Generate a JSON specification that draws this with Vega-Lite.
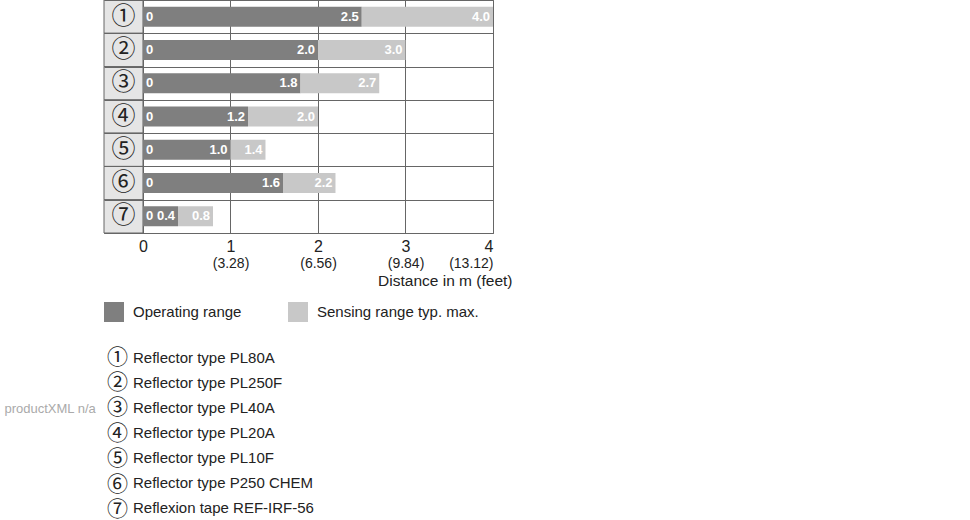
{
  "$schema": "https://vega.github.io/schema/vega-lite/v6.json",
  "autosize": "none",
  "padding": {"left": 104, "top": 0, "right": 477, "bottom": 287},
  "width": 389,
  "height": 233,
  "background": "white",
  "config": {
    "font": "Liberation Sans",
    "view": {"stroke": "#666", "strokeWidth": 1}
  },
  "data": {
    "values": [
      {"row": "①", "op": 2.5, "max": 4.0, "name": "Reflector type PL80A"},
      {"row": "②", "op": 2.0, "max": 3.0, "name": "Reflector type PL250F"},
      {"row": "③", "op": 1.8, "max": 2.7, "name": "Reflector type PL40A"},
      {"row": "④", "op": 1.2, "max": 2.0, "name": "Reflector type PL20A"},
      {"row": "⑤", "op": 1.0, "max": 1.4, "name": "Reflector type PL10F"},
      {"row": "⑥", "op": 1.6, "max": 2.2, "name": "Reflector type P250 CHEM"},
      {"row": "⑦", "op": 0.4, "max": 0.8, "name": "Reflexion tape REF-IRF-56"}
    ]
  },
  "encoding": {
    "y": {
      "field": "row", "type": "nominal", "sort": null,
      "scale": {"paddingInner": 0, "paddingOuter": 0},
      "axis": {
        "labels": false, "ticks": false, "domain": false, "grid": true,
        "tickBand": "extent", "gridColor": "#666", "gridWidth": 1, "zindex": 1,
        "title": "productXML n/a", "titleAngle": 0, "titleX": -100, "titleY": 408,
        "titleAlign": "left", "titleBaseline": "middle", "titleColor": "#aaaaaa",
        "titleFontSize": 13, "titleFontWeight": "normal", "titleFont": "Liberation Sans"
      }
    }
  },
  "resolve": {"axis": {"x": "independent"}},
  "layer": [
    {
      "mark": {"type": "rect", "fill": "#e5e5e5", "stroke": "#666", "strokeWidth": 1},
      "encoding": {
        "x": {"datum": -0.4457, "type": "quantitative", "scale": {"domain": [-0.4457, 4], "nice": false, "zero": false}, "axis": null},
        "x2": {"datum": 0}
      }
    },
    {
      "mark": {"type": "text", "font": "Noto Sans CJK JP", "fontSize": 24, "color": "#222", "align": "center", "baseline": "middle"},
      "encoding": {
        "x": {"datum": -0.2228, "type": "quantitative", "axis": null},
        "text": {"field": "row"}
      }
    },
    {
      "mark": {"type": "bar", "size": 20},
      "encoding": {
        "x": {
          "field": "op", "type": "quantitative",
          "axis": {
            "values": [0, 1, 2, 3, 4], "grid": true, "gridColor": "#666", "gridWidth": 1,
            "domain": false, "ticks": false, "labelFontSize": 16, "labelColor": "#222",
            "labelPadding": 5, "title": null, "orient": "bottom", "zindex": 0
          }
        },
        "x2": {"datum": 0},
        "color": {
          "datum": "Operating range",
          "scale": {"domain": ["Operating range", "Sensing range typ. max."], "range": ["#7f7f7f", "#c8c8c8"]},
          "legend": {
            "title": null, "orient": "none", "legendX": 0, "legendY": 302, "direction": "horizontal",
            "symbolType": "square", "symbolSize": 400, "symbolStrokeWidth": 0, "symbolOpacity": 1,
            "labelFontSize": 15, "labelColor": "#222", "labelOffset": 9, "columnPadding": 46, "labelLimit": 400
          }
        }
      }
    },
    {
      "mark": {"type": "bar", "size": 20},
      "encoding": {
        "x": {
          "field": "op", "type": "quantitative",
          "axis": {
            "values": [1, 2, 3, 4], "grid": false, "domain": false, "ticks": false,
            "labelExpr": "datum.value == 1 ? '(3.28)' : datum.value == 2 ? '(6.56)' : datum.value == 3 ? '(9.84)' : '(13.12)'",
            "labelFontSize": 14, "labelColor": "#222", "labelPadding": 5, "offset": 18, "orient": "bottom",
            "title": "Distance in m (feet)", "titleFontSize": 15.5, "titleFontWeight": "normal", "titleColor": "#222",
            "titleAnchor": "end", "titleAlign": "right", "titleBaseline": "middle", "titleX": 408, "titleY": 29
          }
        },
        "x2": {"field": "max"},
        "color": {"datum": "Sensing range typ. max."}
      }
    },
    {
      "mark": {"type": "text", "align": "left", "baseline": "middle", "dx": 3, "color": "white", "fontSize": 13, "fontWeight": "bold"},
      "encoding": {
        "x": {"datum": 0, "type": "quantitative", "axis": null},
        "text": {"value": "0"}
      }
    },
    {
      "mark": {"type": "text", "align": "right", "baseline": "middle", "dx": -3, "color": "white", "fontSize": 13, "fontWeight": "bold"},
      "encoding": {
        "x": {"field": "op", "type": "quantitative", "axis": null},
        "text": {"field": "op", "type": "quantitative", "format": ".1f"}
      }
    },
    {
      "mark": {"type": "text", "align": "right", "baseline": "middle", "dx": -3, "color": "white", "fontSize": 13, "fontWeight": "bold"},
      "encoding": {
        "x": {"field": "max", "type": "quantitative", "axis": null},
        "text": {"field": "max", "type": "quantitative", "format": ".1f"}
      }
    },
    {
      "mark": {"type": "point", "opacity": 0},
      "encoding": {
        "x": {"datum": 0, "type": "quantitative", "axis": null},
        "shape": {
          "field": "row", "type": "nominal", "sort": null,
          "legend": {
            "title": null, "orient": "none", "legendX": -18, "legendY": 347, "direction": "vertical",
            "symbolSize": 0, "symbolOpacity": 0, "symbolStrokeWidth": 0, "labelOffset": 0,
            "labelFont": "Noto Sans CJK JP", "labelFontSize": 21, "labelColor": "#222", "rowPadding": 3.4
          }
        },
        "strokeDash": {
          "field": "name", "type": "nominal", "sort": null,
          "legend": {
            "title": null, "orient": "none", "legendX": 14, "legendY": 350, "direction": "vertical",
            "symbolSize": 0, "symbolOpacity": 0, "symbolStrokeWidth": 0, "symbolStrokeColor": "white", "labelOffset": 0,
            "labelFontSize": 15, "labelColor": "#222", "rowPadding": 9, "labelLimit": 400
          }
        }
      }
    }
  ]
}
